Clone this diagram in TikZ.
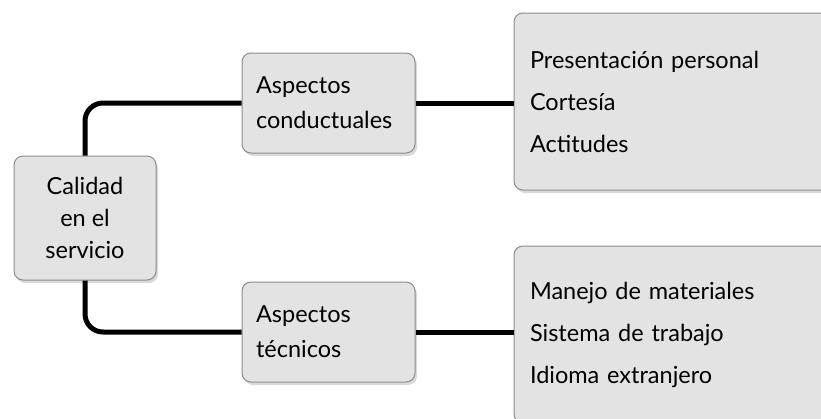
\documentclass[tikz,border=0pt]{standalone}
\usepackage{fontspec}
\setmainfont{Lato}
\usetikzlibrary{shadows}

\definecolor{boxfill}{HTML}{E3E3E3}
\definecolor{boxline}{HTML}{8C8C8C}

\tikzset{
  box/.style={draw=boxline, line width=1pt, fill=boxfill, rounded corners=9pt,
    drop shadow={opacity=0.3, shadow xshift=2pt, shadow yshift=-3pt}},
  link/.style={line width=5pt, rounded corners=18pt},
}

\begin{document}
\begin{tikzpicture}[x=1pt, y=-1pt]
      \useasboundingbox (0,0) rectangle (821,418);
      \node[box, minimum width=142pt, minimum height=124pt, align=center,
            font=\fontsize{23.5}{32}\selectfont] (calidad) at (85,218) {Calidad\\en el\\servicio};
      \node[box, text width=145pt, inner xsep=14pt, minimum height=100pt, align=left,
            font=\fontsize{23.5}{35}\selectfont] (conduct) at (328.5,103) {Aspectos\\conductuales};
      \node[box, text width=145pt, inner xsep=14pt, minimum height=100pt, align=left,
            font=\fontsize{23.5}{35}\selectfont] (tecnico) at (328.5,332) {Aspectos\\técnicos};
      \node[box, text width=290pt, inner xsep=16pt, minimum height=177pt, align=left,
            font=\fontsize{23.5}{42}\selectfont] (actitud) at (675,101.5) {Presentación personal\\Cortesía\\Actitudes};
      \node[box, text width=290pt, inner xsep=16pt, minimum height=177pt, align=left,
            font=\fontsize{23.5}{42}\selectfont] (tecnica) at (675,334.5) {Manejo de materiales\\Sistema de trabajo\\Idioma extranjero};
      \draw[link] (calidad.north) |- (conduct.west);
      \draw[link] (calidad.south) |- (tecnico.west);
      \draw[link] (conduct.east) -- (conduct.east -| actitud.west);
      \draw[link] (tecnico.east) -- (tecnico.east -| tecnica.west);
    \end{tikzpicture}
\end{document}
